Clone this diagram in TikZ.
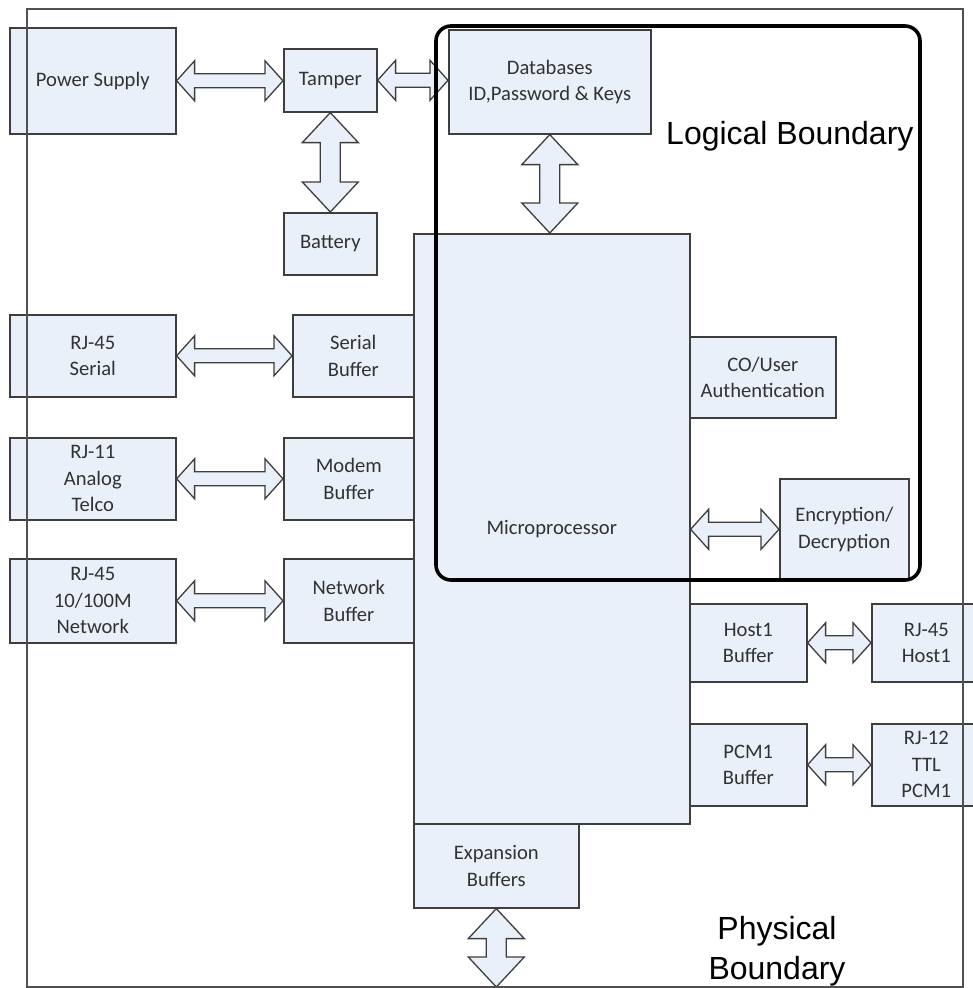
\documentclass[tikz,border=0pt]{standalone}
\usepackage{fontspec}
\setmainfont{Carlito}
\newfontfamily\arialf{Liberation Sans}
\usetikzlibrary{calc}
\definecolor{boxfill}{RGB}{234,240,250}
\definecolor{boxline}{RGB}{62,62,62}
\definecolor{boxtext}{RGB}{50,50,50}
\definecolor{physline}{RGB}{80,80,80}
\newcommand{\bx}[6]{\node[blk, anchor=north west, minimum width={(#4-#2)*1pt}, minimum height={(#5-#3)*1pt}] (#1) at (#2,#3) {#6};}
% horizontal double arrow between two points (left, right)
\newcommand{\dblh}[2]{\draw[arr] let \p1=#1, \p2=#2 in
  (\x1,\y1) -- (\x1+18pt,\y1+20pt) -- (\x1+18pt,\y1+7pt) -- (\x2-18pt,\y1+7pt) -- (\x2-18pt,\y1+20pt) -- (\x2,\y1)
  -- (\x2-18pt,\y1-20pt) -- (\x2-18pt,\y1-7pt) -- (\x1+18pt,\y1-7pt) -- (\x1+18pt,\y1-20pt) -- cycle;}
% vertical double arrow between two points (top, bottom)
\newcommand{\dblv}[2]{\draw[arr] let \p1=#1, \p2=#2 in
  (\x1,\y1) -- (\x1+28pt,\y1-30pt) -- (\x1+10pt,\y1-30pt) -- (\x1+10pt,\y2+30pt) -- (\x1+28pt,\y2+30pt) -- (\x1,\y2)
  -- (\x1-28pt,\y2+30pt) -- (\x1-10pt,\y2+30pt) -- (\x1-10pt,\y1-30pt) -- (\x1-28pt,\y1-30pt) -- cycle;}
\begin{document}
\begin{tikzpicture}[x=1pt,y=-1pt,
  blk/.style={draw=boxline, fill=boxfill, line width=1.6pt, inner sep=0pt, align=center, text=boxtext,
    font=\fontsize{20.6}{26.5}\selectfont},
  arr/.style={draw=boxline, fill=boxfill, line width=1.3pt, line join=miter},
  bigtext/.style={font=\arialf\fontsize{32}{40}\selectfont, inner sep=0pt, align=center, text=black}]
\clip (0,0) rectangle (973,988);
\fill[white] (0,0) rectangle (973,988);

\bx{ps}{9}{27}{175}{133}{Power Supply}
\bx{tamper}{283}{48}{376}{111}{Tamper}
\bx{battery}{283}{212}{376}{274}{Battery}
\bx{db}{448}{29}{650}{133}{Databases\\ID,Password \& Keys}
\bx{micro}{413}{233}{689}{823}{Microprocessor}
\bx{auth}{689}{336}{835}{417}{CO/User\\Authentication}
\bx{enc}{779}{478}{908}{579}{Encryption/\\Decryption}
\bx{hostbuf}{689}{603}{806}{681}{Host1\\Buffer}
\bx{rjhost}{871}{603}{980}{681}{RJ-45\\Host1}
\bx{pcmbuf}{689}{723}{806}{805}{PCM1\\Buffer}
\bx{rjpcm}{871}{723}{980}{805}{RJ-12\\TTL\\PCM1}
\bx{exp}{413}{823}{578}{907}{Expansion\\Buffers}
\bx{rjser}{9}{314}{175}{396}{RJ-45\\Serial}
\bx{serbuf}{292}{314}{413}{396}{Serial\\Buffer}
\bx{rj11}{9}{437}{175}{519}{RJ-11\\Analog\\Telco}
\bx{modbuf}{283}{437}{413}{519}{Modem\\Buffer}
\bx{rjnet}{9}{558}{175}{642}{RJ-45\\10/100M\\Network}
\bx{netbuf}{283}{558}{413}{642}{Network\\Buffer}

\coordinate (extbot) at (495.5,987);

% connectors
\dblh{(ps.east)}{(ps.east -| tamper.west)}
\dblh{(tamper.east)}{(tamper.east -| db.west)}
\dblv{(tamper.south)}{(battery.north)}
\dblv{(db.south)}{(db.south |- micro.north)}
\dblh{(micro.east |- enc.west)}{(enc.west)}
\dblh{(rjser.east)}{(serbuf.west)}
\dblh{(rj11.east)}{(modbuf.west)}
\dblh{(rjnet.east)}{(netbuf.west)}
\dblh{(hostbuf.east)}{(rjhost.west)}
\dblh{(pcmbuf.east)}{(rjpcm.west)}
\dblv{(exp.south)}{(extbot)}

% boundaries
\draw[physline, line width=1.8pt] (27,9) rectangle (963,987);
\draw[black, line width=3.6pt, rounded corners=15pt] (436,26) rectangle (920,580);

\node[bigtext, anchor=base west] (logical) at (666,144) {Logical Boundary};
\node[bigtext, anchor=center] (physical) at (777,951.6) {Physical\\Boundary};
\end{tikzpicture}
\end{document}
